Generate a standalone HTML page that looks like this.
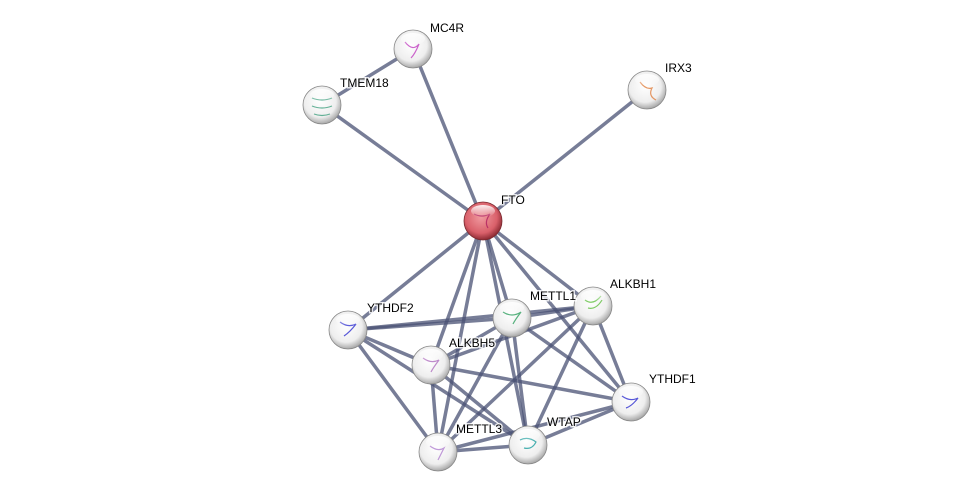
<!DOCTYPE html>
<html><head><style>html,body{margin:0;background:#fff;}svg{display:block}</style></head><body>
<svg width="976" height="496" viewBox="0 0 976 496" xmlns="http://www.w3.org/2000/svg">
<defs>
<radialGradient id="g" cx="0.45" cy="0.4" r="0.6">
<stop offset="0" stop-color="#ffffff"/><stop offset="0.7" stop-color="#eeeeee"/><stop offset="1" stop-color="#a8a8a8"/></radialGradient>
<radialGradient id="r" cx="0.45" cy="0.4" r="0.6">
<stop offset="0" stop-color="#f09aa0"/><stop offset="0.7" stop-color="#d9606a"/><stop offset="1" stop-color="#8d2a33"/></radialGradient>
<linearGradient id="hl" x1="0" y1="0" x2="0" y2="1"><stop offset="0" stop-color="#fff" stop-opacity="0.9"/><stop offset="1" stop-color="#fff" stop-opacity="0"/></linearGradient>
</defs>
<g stroke="#4a5274" stroke-opacity="0.75" stroke-width="3.5" fill="none" stroke-linecap="round">
<line x1="483" y1="221" x2="413" y2="49"/>
<line x1="483" y1="221" x2="322" y2="105"/>
<line x1="322" y1="105" x2="413" y2="49"/>
<line x1="483" y1="221" x2="647" y2="90"/>
<line x1="483" y1="221" x2="348" y2="330"/>
<line x1="483" y1="221" x2="512" y2="318"/>
<line x1="483" y1="221" x2="593" y2="306"/>
<line x1="483" y1="221" x2="431" y2="365"/>
<line x1="483" y1="221" x2="631" y2="402"/>
<line x1="483" y1="221" x2="438" y2="452"/>
<line x1="483" y1="221" x2="528" y2="445"/>
<line x1="348" y1="330" x2="512" y2="318"/>
<line x1="348" y1="330" x2="593" y2="306"/>
<line x1="348" y1="330" x2="431" y2="365"/>
<line x1="348" y1="330" x2="438" y2="452"/>
<line x1="348" y1="330" x2="528" y2="445"/>
<line x1="512" y1="318" x2="593" y2="306"/>
<line x1="512" y1="318" x2="431" y2="365"/>
<line x1="512" y1="318" x2="631" y2="402"/>
<line x1="512" y1="318" x2="438" y2="452"/>
<line x1="512" y1="318" x2="528" y2="445"/>
<line x1="593" y1="306" x2="431" y2="365"/>
<line x1="593" y1="306" x2="631" y2="402"/>
<line x1="593" y1="306" x2="438" y2="452"/>
<line x1="593" y1="306" x2="528" y2="445"/>
<line x1="431" y1="365" x2="631" y2="402"/>
<line x1="431" y1="365" x2="438" y2="452"/>
<line x1="431" y1="365" x2="528" y2="445"/>
<line x1="631" y1="402" x2="438" y2="452"/>
<line x1="631" y1="402" x2="528" y2="445"/>
<line x1="438" y1="452" x2="528" y2="445"/>
</g>
<g stroke="#888" stroke-width="0.8">
<circle cx="413" cy="49" r="19" fill="url(#g)"/>
<circle cx="322" cy="105" r="19" fill="url(#g)"/>
<circle cx="647" cy="90" r="19" fill="url(#g)"/>
<circle cx="483" cy="221" r="19" fill="url(#r)" stroke="#7a2a30"/>
<circle cx="348" cy="330" r="19" fill="url(#g)"/>
<circle cx="512" cy="318" r="19" fill="url(#g)"/>
<circle cx="593" cy="306" r="19" fill="url(#g)"/>
<circle cx="431" cy="365" r="19" fill="url(#g)"/>
<circle cx="631" cy="402" r="19" fill="url(#g)"/>
<circle cx="438" cy="452" r="19" fill="url(#g)"/>
<circle cx="528" cy="445" r="19" fill="url(#g)"/>
</g>
<g fill="none" stroke-width="1.2" opacity="0.8">
<path d="M405 42 q8 10 14 2 q-4 10 -8 14" stroke="#c040c0"/>
<path d="M312 98 q10 4 20 0 M312 106 q10 4 20 0 M314 114 q8 3 16 0" stroke="#40a080"/>
<path d="M640 82 q6 8 12 6 q-4 8 4 12" stroke="#e08040"/>
<path d="M474 214 q8 4 16 0 q-6 8 -2 14" stroke="#b02060"/>
<path d="M340 322 q8 6 16 2 q-6 8 -12 12" stroke="#3030d0"/>
<path d="M503 312 q9 6 18 0 q-6 8 -8 12" stroke="#30a060"/>
<path d="M585 300 q8 6 16 -4 M588 308 q8 2 14 -8" stroke="#60c040"/>
<path d="M423 358 q8 6 16 2 q-6 8 -8 12" stroke="#b070c0"/>
<path d="M622 396 q8 6 16 2 q-6 8 -12 10" stroke="#3030d0"/>
<path d="M430 446 q8 6 14 2 q-4 8 -6 12" stroke="#b080d0"/>
<path d="M520 440 q8 -4 16 2 q-4 8 -12 6" stroke="#20a0a0"/>
</g>
<g fill="url(#hl)">
<ellipse cx="413" cy="39" rx="12" ry="6"/><ellipse cx="322" cy="95" rx="12" ry="6"/>
<ellipse cx="647" cy="80" rx="12" ry="6"/><ellipse cx="483" cy="211" rx="12" ry="6"/>
<ellipse cx="348" cy="320" rx="12" ry="6"/><ellipse cx="512" cy="308" rx="12" ry="6"/>
<ellipse cx="593" cy="296" rx="12" ry="6"/><ellipse cx="431" cy="355" rx="12" ry="6"/>
<ellipse cx="631" cy="392" rx="12" ry="6"/><ellipse cx="438" cy="442" rx="12" ry="6"/>
<ellipse cx="528" cy="435" rx="12" ry="6"/>
</g>
<g font-family="Liberation Sans, sans-serif" font-size="12" fill="#000" stroke="#fff" stroke-width="3" paint-order="stroke" stroke-opacity="0.8">
<text x="430" y="32">MC4R</text>
<text x="340" y="87">TMEM18</text>
<text x="665" y="72">IRX3</text>
<text x="501" y="204">FTO</text>
<text x="367" y="312">YTHDF2</text>
<text x="530" y="300">METTL1</text>
<text x="610" y="288">ALKBH1</text>
<text x="449" y="347">ALKBH5</text>
<text x="649" y="383">YTHDF1</text>
<text x="456" y="433">METTL3</text>
<text x="547" y="426">WTAP</text>
</g>
</svg>
</body></html>
